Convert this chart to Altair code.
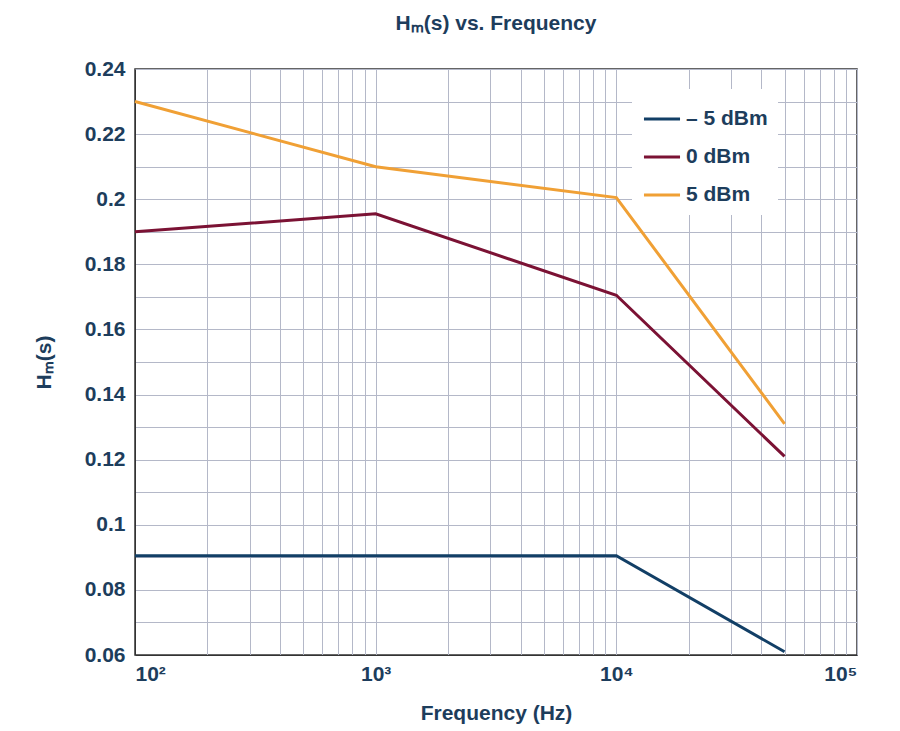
import pandas as pd
import altair as alt

freq = [100, 1000, 10000, 50000]
series_names = ["– 5 dBm", "0 dBm", "5 dBm"]
h_minus5 = [0.0905, 0.0905, 0.0905, 0.061]
h_0 = [0.190, 0.1955, 0.1705, 0.121]
h_5 = [0.230, 0.210, 0.2005, 0.131]
colors = ["#123f66", "#7b1234", "#f0a035"]

x_ticks = [m * 10 ** e for e in (2, 3, 4) for m in range(1, 10)] + [100000]
y_ticks = [round(0.06 + 0.01 * i, 2) for i in range(19)]

rows = []
for name, vals in zip(series_names, [h_minus5, h_0, h_5]):
    for f, v in zip(freq, vals):
        rows.append({"freq": f, "h": v, "series": name})
df = pd.DataFrame(rows)

txt = "#1d3d5c"
font = "Liberation Sans"

chart = alt.Chart(df).mark_line(strokeWidth=3).encode(
    x=alt.X("freq:Q", title="Frequency (Hz)",
            scale=alt.Scale(type="log", domain=[100, 100000], nice=False),
            axis=alt.Axis(values=x_ticks, tickSize=0, labelPadding=8, titlePadding=18,
                          labelExpr="datum.value==100?'10²':datum.value==1000?'10³':datum.value==10000?'10⁴':datum.value==100000?'10⁵':''")),
    y=alt.Y("h:Q", title="Hₘ(s)",
            scale=alt.Scale(domain=[0.06, 0.24], nice=False, zero=False),
            axis=alt.Axis(values=y_ticks, tickSize=0, labelPadding=10, titlePadding=30,
                          labelExpr="(round(datum.value*100)%2==0)?format(datum.value,'~g'):''")),
    color=alt.Color("series:N", sort=series_names,
                    scale=alt.Scale(domain=series_names, range=colors),
                    legend=alt.Legend(title=None, orient="none", legendX=497, legendY=20,
                                      symbolType="stroke", symbolStrokeWidth=3, symbolSize=1300,
                                      labelFontSize=21, labelFont=font, labelFontWeight="bold",
                                      labelColor=txt, rowPadding=8, fillColor="white",
                                      padding=10)),
).properties(
    width=722, height=586,
    padding={"left": 25, "top": 5, "right": 5, "bottom": 5},
    title=alt.Title("Hₘ(s) vs. Frequency", fontSize=21, font=font, color=txt, offset=24),
).configure_axis(
    gridColor="#b4b8c8", gridWidth=1, domainColor="#333", labelFont=font, titleFont=font,
    labelFontSize=21, titleFontSize=21, labelFontWeight="bold", titleFontWeight="bold",
    labelColor=txt, titleColor=txt,
).configure_view(stroke="#333", strokeWidth=1.5)

chart.save("out.html", embed_options={"renderer": "svg", "actions": False})
